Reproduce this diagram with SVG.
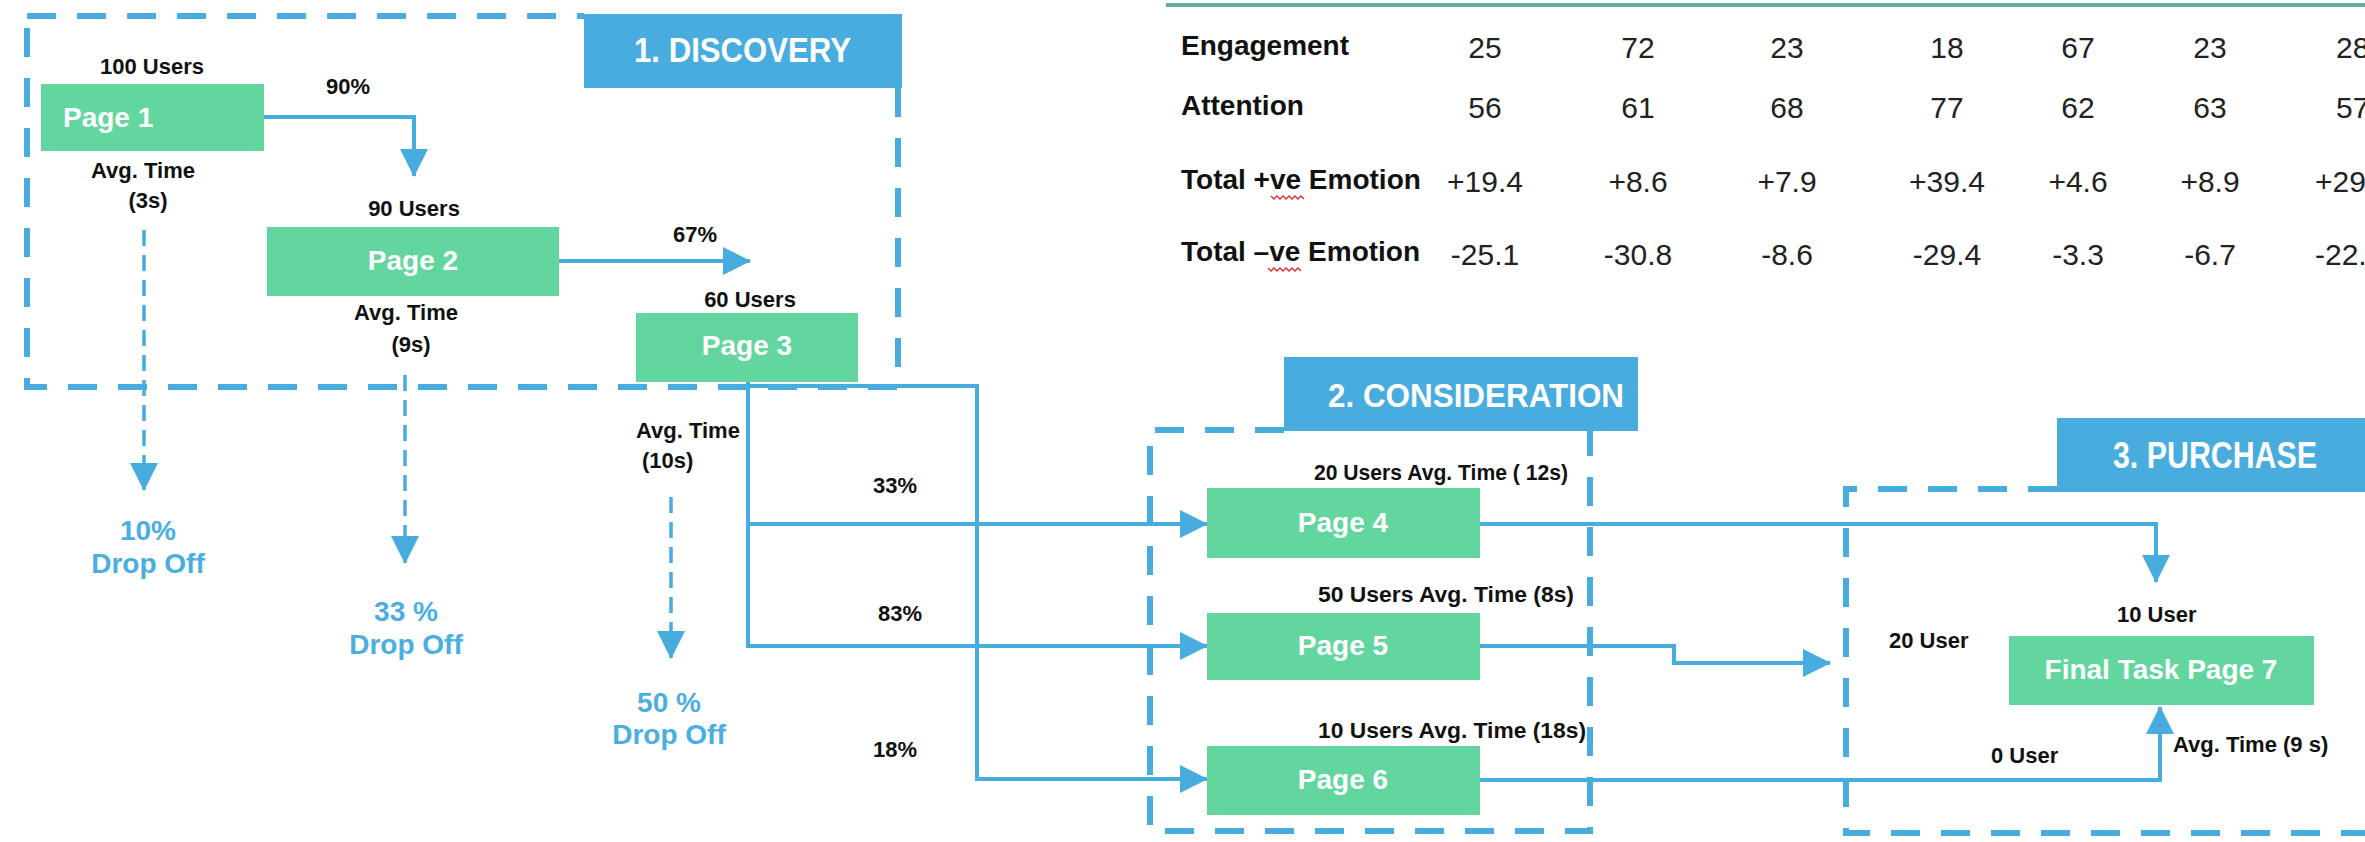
<svg xmlns="http://www.w3.org/2000/svg" width="2365" height="842" viewBox="0 0 2365 842">
<defs>
<style>
.bg{fill:#ffffff}
.frame{fill:none;stroke:#48ACDF;stroke-width:6;stroke-dasharray:29 21}
.lbl{fill:#48ACDF}
.lbltxt{font-family:"Liberation Sans",Arial,sans-serif;font-weight:bold;fill:#ffffff}
.page{fill:#63D69F}
.pagetxt{font-family:"Liberation Sans",Arial,sans-serif;font-weight:bold;font-size:28px;fill:#ffffff}
.t{font-family:"Liberation Sans",Arial,sans-serif;font-weight:bold;font-size:22px;fill:#111111}
.drop{font-family:"Liberation Sans",Arial,sans-serif;font-weight:bold;font-size:28px;fill:#4AAEE0;text-anchor:middle}
.conn{fill:none;stroke:#48ACDF;stroke-width:4}
.dconn{fill:none;stroke:#48ACDF;stroke-width:3.5;stroke-dasharray:16 9}
.rowl{font-family:"Liberation Sans",Arial,sans-serif;font-weight:bold;font-size:28px;fill:#111111}
.num{font-family:"Liberation Sans",Arial,sans-serif;font-size:30px;fill:#222222;text-anchor:middle}
.numr{font-family:"Liberation Sans",Arial,sans-serif;font-size:30px;fill:#222222}
.sq{fill:none;stroke:#D03030;stroke-width:1.4}
</style>
<marker id="ah" viewBox="0 0 28 28" markerWidth="28" markerHeight="28" refX="27" refY="14" orient="auto" markerUnits="userSpaceOnUse">
<path d="M0,0 L28,14 L0,28 z" fill="#48ACDF"/>
</marker>
</defs>
<rect class="bg" x="0" y="0" width="2365" height="842"/>

<g id="table">
<line x1="1166" y1="5" x2="2365" y2="5" stroke="#5FAE9F" stroke-width="4"/>
<text class="rowl" x="1181" y="55">Engagement</text>
<text class="rowl" x="1181" y="115">Attention</text>
<text class="rowl" x="1181" y="189">Total +ve Emotion</text>
<text class="rowl" x="1181" y="261">Total –ve Emotion</text>
<path class="sq" d="M1271,196 l3,3 l3,-3 l3,3 l3,-3 l3,3 l3,-3 l3,3 l3,-3 l3,3 l3,-3 l3,3"/>
<path class="sq" d="M1268,268 l3,3 l3,-3 l3,3 l3,-3 l3,3 l3,-3 l3,3 l3,-3 l3,3 l3,-3 l3,3"/>
<g>
<text class="num" x="1485" y="58">25</text><text class="num" x="1638" y="58">72</text><text class="num" x="1787" y="58">23</text><text class="num" x="1947" y="58">18</text><text class="num" x="2078" y="58">67</text><text class="num" x="2210" y="58">23</text><text class="numr" x="2336" y="58">28</text>
<text class="num" x="1485" y="118">56</text><text class="num" x="1638" y="118">61</text><text class="num" x="1787" y="118">68</text><text class="num" x="1947" y="118">77</text><text class="num" x="2078" y="118">62</text><text class="num" x="2210" y="118">63</text><text class="numr" x="2336" y="118">57</text>
<text class="num" x="1485" y="192">+19.4</text><text class="num" x="1638" y="192">+8.6</text><text class="num" x="1787" y="192">+7.9</text><text class="num" x="1947" y="192">+39.4</text><text class="num" x="2078" y="192">+4.6</text><text class="num" x="2210" y="192">+8.9</text><text class="numr" x="2315" y="192">+29</text>
<text class="num" x="1485" y="265">-25.1</text><text class="num" x="1638" y="265">-30.8</text><text class="num" x="1787" y="265">-8.6</text><text class="num" x="1947" y="265">-29.4</text><text class="num" x="2078" y="265">-3.3</text><text class="num" x="2210" y="265">-6.7</text><text class="numr" x="2315" y="265">-22.</text>
</g>
</g>

<g id="discovery-frame">
<path class="frame" d="M27,16 H584 M898,88 V387 H27 V16"/>
<rect class="lbl" x="584" y="14" width="318" height="74"/>
<text class="lbltxt" x="634" y="62" font-size="35" textLength="217" lengthAdjust="spacingAndGlyphs">1. DISCOVERY</text>
</g>

<g id="consideration-frame">
<path class="frame" d="M1284,430 H1150 V831 H1590 V431"/>
<rect class="lbl" x="1284" y="357" width="354" height="74"/>
<text class="lbltxt" x="1328" y="407" font-size="33" textLength="296" lengthAdjust="spacingAndGlyphs">2. CONSIDERATION</text>
</g>

<g id="purchase-frame">
<path class="frame" d="M2057,489 H1846 V833 H2365"/>
<rect class="lbl" x="2057" y="418" width="308" height="74"/>
<text class="lbltxt" x="2113" y="468" font-size="36" textLength="204" lengthAdjust="spacingAndGlyphs">3. PURCHASE</text>
</g>

<g id="connectors">
<path class="conn" d="M264,117 H414 V176" marker-end="url(#ah)"/>
<path class="conn" d="M559,261 H750" marker-end="url(#ah)"/>
<path class="conn" d="M748,382 V524 H1207" marker-end="url(#ah)"/>
<path class="conn" d="M748,524 V646 H1207" marker-end="url(#ah)"/>
<path class="conn" d="M748,386 H977 V779 H1207" marker-end="url(#ah)"/>
<path class="conn" d="M1480,524 H2156 V582" marker-end="url(#ah)"/>
<path class="conn" d="M1480,646 H1674 V663 H1830" marker-end="url(#ah)"/>
<path class="conn" d="M1480,780 H2160 V707" marker-end="url(#ah)"/>
<path class="dconn" d="M144,230 V490" marker-end="url(#ah)"/>
<path class="dconn" d="M405,375 V563" marker-end="url(#ah)"/>
<path class="dconn" d="M671,497 V658" marker-end="url(#ah)"/>
<text class="t" x="326" y="94">90%</text>
<text class="t" x="673" y="242">67%</text>
<text class="t" x="873" y="493">33%</text>
<text class="t" x="878" y="621">83%</text>
<text class="t" x="873" y="757">18%</text>
</g>

<g id="page1">
<text class="t" x="152" y="74" text-anchor="middle">100 Users</text>
<rect class="page" x="41" y="84" width="223" height="67"/>
<text class="pagetxt" x="63" y="127">Page 1</text>
<text class="t" x="143" y="178" text-anchor="middle">Avg. Time</text>
<text class="t" x="148" y="208" text-anchor="middle">(3s)</text>
</g>

<g id="dropoff1">
<text class="drop" x="148" y="540">10%</text>
<text class="drop" x="148" y="573">Drop Off</text>
</g>

<g id="page2">
<text class="t" x="414" y="216" text-anchor="middle">90 Users</text>
<rect class="page" x="267" y="227" width="292" height="69"/>
<text class="pagetxt" x="413" y="270" text-anchor="middle">Page 2</text>
<text class="t" x="406" y="320" text-anchor="middle">Avg. Time</text>
<text class="t" x="411" y="352" text-anchor="middle">(9s)</text>
</g>

<g id="dropoff2">
<text class="drop" x="406" y="621">33 %</text>
<text class="drop" x="406" y="654">Drop Off</text>
</g>

<g id="page3">
<text class="t" x="750" y="307" text-anchor="middle">60 Users</text>
<rect class="page" x="636" y="313" width="222" height="69"/>
<text class="pagetxt" x="747" y="355" text-anchor="middle">Page 3</text>
<text class="t" x="636" y="438">Avg. Time</text>
<text class="t" x="642" y="468">(10s)</text>
</g>

<g id="dropoff3">
<text class="drop" x="669" y="712">50 %</text>
<text class="drop" x="669" y="744">Drop Off</text>
</g>

<g id="page4">
<text class="t" x="1314" y="480" textLength="254" lengthAdjust="spacingAndGlyphs">20 Users Avg. Time ( 12s)</text>
<rect class="page" x="1207" y="488" width="273" height="70"/>
<text class="pagetxt" x="1343" y="532" text-anchor="middle">Page 4</text>
</g>

<g id="page5">
<text class="t" x="1318" y="602" textLength="256" lengthAdjust="spacingAndGlyphs">50 Users Avg. Time (8s)</text>
<rect class="page" x="1207" y="613" width="273" height="67"/>
<text class="pagetxt" x="1343" y="655" text-anchor="middle">Page 5</text>
</g>

<g id="page6">
<text class="t" x="1318" y="738" textLength="268" lengthAdjust="spacingAndGlyphs">10 Users Avg. Time (18s)</text>
<rect class="page" x="1207" y="746" width="273" height="69"/>
<text class="pagetxt" x="1343" y="789" text-anchor="middle">Page 6</text>
</g>

<g id="page7">
<text class="t" x="2117" y="622">10 User</text>
<text class="t" x="1889" y="648">20 User</text>
<rect class="page" x="2009" y="636" width="305" height="69"/>
<text class="pagetxt" x="2161" y="679" text-anchor="middle" font-size="27">Final Task Page 7</text>
<text class="t" x="1991" y="763">0 User</text>
<text class="t" x="2173" y="752">Avg. Time (9 s)</text>
</g>
</svg>
